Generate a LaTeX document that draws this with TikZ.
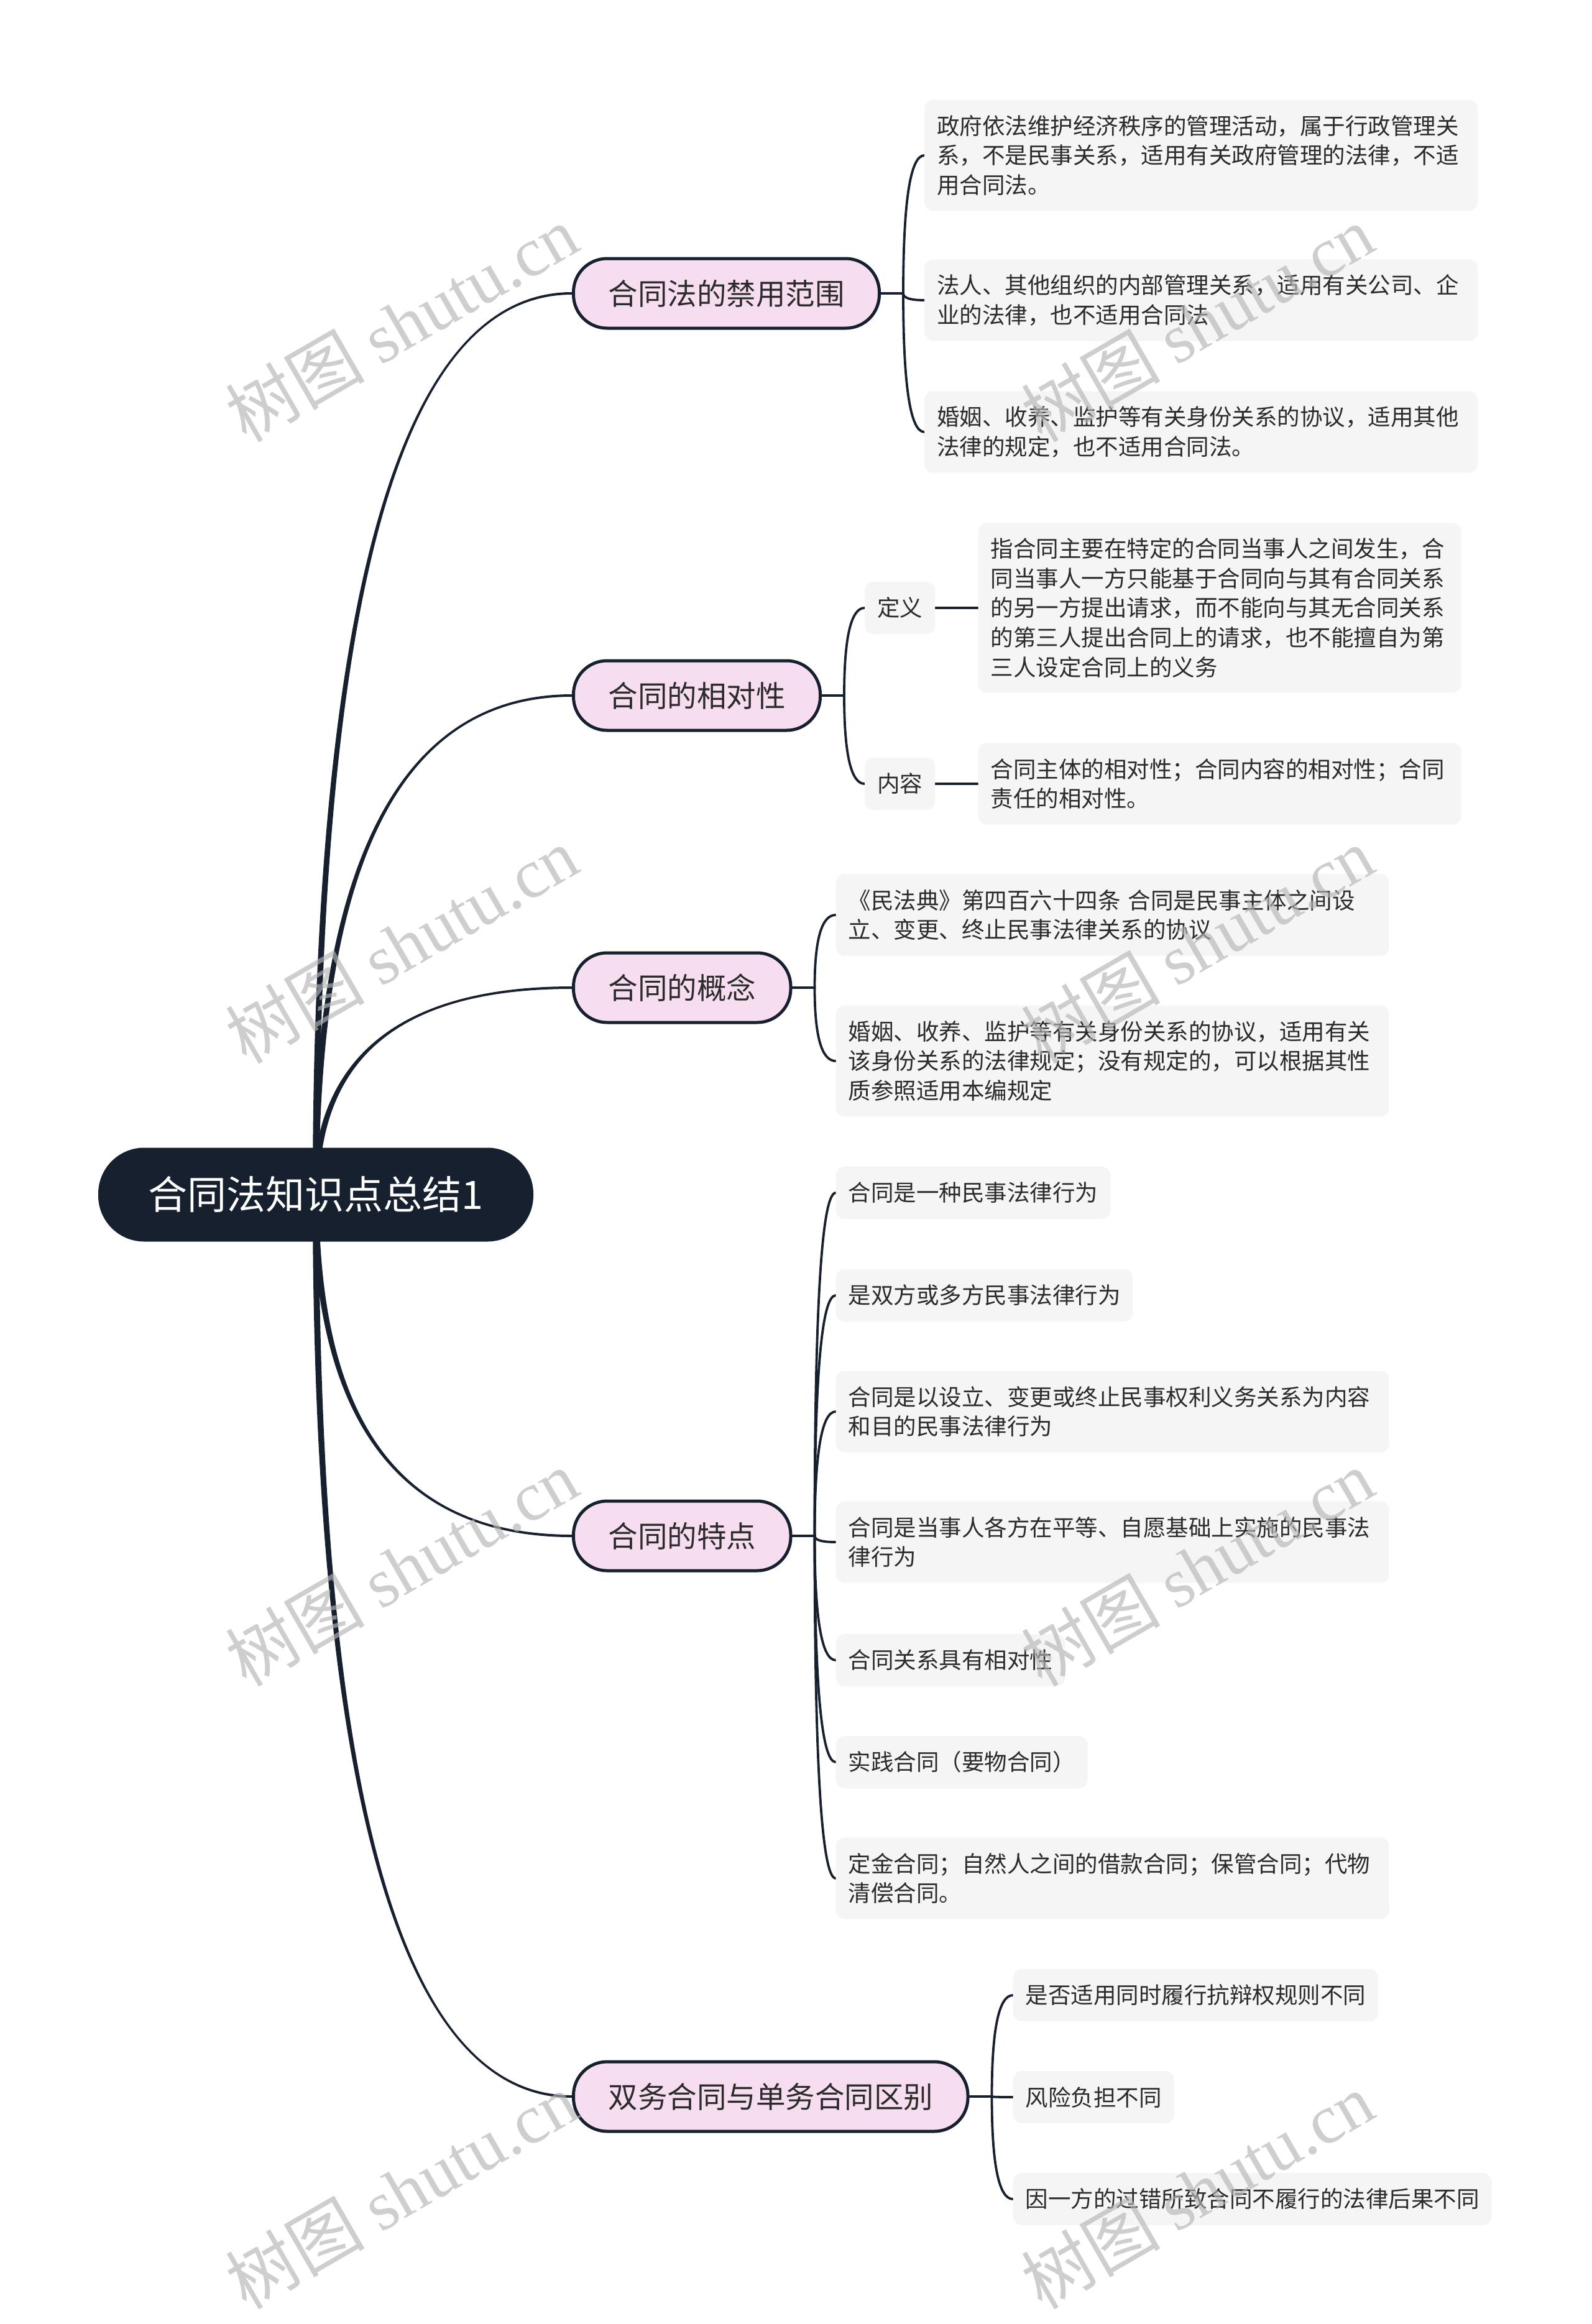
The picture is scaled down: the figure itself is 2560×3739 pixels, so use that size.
\documentclass[tikz,border=0pt]{standalone}
\usepackage{fontspec}
\setmainfont{Noto Sans CJK SC}
\newfontfamily\wmlatin{Liberation Serif}
\usetikzlibrary{calc}
\definecolor{navy}{HTML}{17202E}
\definecolor{pinkf}{HTML}{F6DDF0}
\definecolor{leaff}{HTML}{F5F5F5}
\definecolor{txt}{HTML}{2B2B2B}
\definecolor{wmc}{HTML}{B5B5B5}
\pgfdeclarelayer{bg}
\pgfdeclarelayer{fg}
\pgfsetlayers{bg,main,fg}
\tikzset{
  rootbox/.style={fill=navy, draw=none, rounded corners=74pt, minimum width=700pt,
    minimum height=151pt, inner sep=0pt, text=white, font=\fontsize{63}{75}\selectfont},
  topic/.style={fill=pinkf, draw=navy, line width=5pt, rounded corners=54pt,
    minimum height=112pt, inner xsep=56pt, inner ysep=0pt, text=txt,
    font=\fontsize{47.5}{57}\selectfont, anchor=west},
  leaf/.style={fill=leaff, draw=none, rounded corners=14pt, inner xsep=20pt, inner ysep=0pt,
    text=txt, font=\fontsize{36.5}{47.7}\selectfont, anchor=west, align=left,
    minimum height=84pt},
  nl/.style={minimum height={84pt+(#1-1)*47.3pt}},
  sublink/.style={draw=navy, line width=3.8pt, line cap=round},
  wmark/.style={rotate=30, text=wmc, opacity=0.65, font=\fontsize{112}{112}\selectfont},
}
\newcommand\rootlink[1]{%
  \fill[navy] let \p1=(root.center), \p2=(#1.west), \n1={sign(\y2-\y1)},
    \n2={\y1+2/3*(\y2-\y1)}, \n3={\x2+2/3*(\x1-\x2)},
    \n4={\x1-(\n1)*5pt}, \n5={\x1+(\n1)*5pt} in
    ({\n4*1pt},\y1) .. controls ({\n4*1pt},{\n2*1pt}) and ({\n3*1pt},{\y2+2pt}) .. (\x2,{\y2+2pt})
    -- (\x2,{\y2-2pt}) .. controls ({\n3*1pt},{\y2-2pt}) and ({\n5*1pt},{\n2*1pt}) .. ({\n5*1pt},\y1) -- cycle;}
\newcommand\leaflink[2]{%
  \draw[sublink] let \p1=(#1.east), \p2=(#2.west), \n1={\x1+36pt},
    \n2={\y1+2/3*(\y2-\y1)}, \n3={\x2+2/3*(\x1+36pt-\x2)} in
    (\p1) -- ({\n1*1pt},\y1) .. controls ({\n1*1pt},{\n2*1pt}) and ({\n3*1pt},\y2) .. (\p2);}
\begin{document}
\begin{tikzpicture}[x=1pt,y=-1pt]
\useasboundingbox (0,0) rectangle (2560,3739);

% root
\node[rootbox] (root) at (508,1922) {合同法知识点总结1};

% main topics
\node[topic] (P1) at (920,472) {合同法的禁用范围};
\node[topic] (P2) at (920,1119) {合同的相对性};
\node[topic] (P3) at (920,1589) {合同的概念};
\node[topic] (P4) at (920,2471) {合同的特点};
\node[topic] (P5) at (920,3373) {双务合同与单务合同区别};

\coordinate (g1) at ([xshift=70pt]P1.east);
\coordinate (g2) at ([xshift=69pt]P2.east);
\coordinate (g3) at ([xshift=70pt]P3.east);
\coordinate (g4) at ([xshift=70pt]P4.east);
\coordinate (g5) at ([xshift=70pt]P5.east);

% group 1
\node[leaf, nl=3, text width=850pt] (L11) at (g1 |- 0,250)
  {政府依法维护经济秩序的管理活动，属于行政管理关\\系，不是民事关系，适用有关政府管理的法律，不适\\用合同法。};
\node[leaf, nl=2, text width=850pt] (L12) at (g1 |- 0,483)
  {法人、其他组织的内部管理关系，适用有关公司、企\\业的法律，也不适用合同法};
\node[leaf, nl=2, text width=850pt] (L13) at (g1 |- 0,695)
  {婚姻、收养、监护等有关身份关系的协议，适用其他\\法律的规定，也不适用合同法。};

% group 2
\node[leaf] (T21) at (g2 |- 0,978) {定义};
\node[leaf] (T22) at (g2 |- 0,1261) {内容};
\node[leaf, nl=5, text width=737pt] (L21) at ([xshift=69pt]T21.east)
  {指合同主要在特定的合同当事人之间发生，合\\同当事人一方只能基于合同向与其有合同关系\\的另一方提出请求，而不能向与其无合同关系\\的第三人提出合同上的请求，也不能擅自为第\\三人设定合同上的义务};
\node[leaf, nl=2, text width=737pt] (L22) at ([xshift=69pt]T22.east)
  {合同主体的相对性；合同内容的相对性；合同\\责任的相对性。};

% group 3
\node[leaf, nl=2, text width=850pt] (L31) at (g3 |- 0,1472)
  {《民法典》第四百六十四条 合同是民事主体之间设\\立、变更、终止民事法律关系的协议};
\node[leaf, nl=3, text width=850pt] (L32) at (g3 |- 0,1707)
  {婚姻、收养、监护等有关身份关系的协议，适用有关\\该身份关系的法律规定；没有规定的，可以根据其性\\质参照适用本编规定};

% group 4
\node[leaf] (L41) at (g4 |- 0,1919) {合同是一种民事法律行为};
\node[leaf] (L42) at (g4 |- 0,2084) {是双方或多方民事法律行为};
\node[leaf, nl=2, text width=850pt] (L43) at (g4 |- 0,2271)
  {合同是以设立、变更或终止民事权利义务关系为内容\\和目的民事法律行为};
\node[leaf, nl=2, text width=850pt] (L44) at (g4 |- 0,2481)
  {合同是当事人各方在平等、自愿基础上实施的民事法\\律行为};
\node[leaf] (L45) at (g4 |- 0,2671) {合同关系具有相对性};
\node[leaf] (L46) at (g4 |- 0,2835) {实践合同（要物合同）};
\node[leaf, nl=2, text width=850pt] (L47) at (g4 |- 0,3022)
  {定金合同；自然人之间的借款合同；保管合同；代物\\清偿合同。};

% group 5
\node[leaf] (L51) at (g5 |- 0,3210) {是否适用同时履行抗辩权规则不同};
\node[leaf] (L52) at (g5 |- 0,3374) {风险负担不同};
\node[leaf] (L53) at (g5 |- 0,3538) {因一方的过错所致合同不履行的法律后果不同};

% connectors
\begin{pgfonlayer}{bg}
  \fill[white] (0,0) rectangle (2560,3739);
  \rootlink{P1}\rootlink{P2}\rootlink{P3}\rootlink{P4}\rootlink{P5}
  \leaflink{P1}{L11}\leaflink{P1}{L12}\leaflink{P1}{L13}
  \leaflink{P2}{T21}\leaflink{P2}{T22}
  \draw[sublink] (T21.east) -- (L21.west);
  \draw[sublink] (T22.east) -- (L22.west);
  \leaflink{P3}{L31}\leaflink{P3}{L32}
  \leaflink{P4}{L41}\leaflink{P4}{L42}\leaflink{P4}{L43}\leaflink{P4}{L44}
  \leaflink{P4}{L45}\leaflink{P4}{L46}\leaflink{P4}{L47}
  \leaflink{P5}{L51}\leaflink{P5}{L52}\leaflink{P5}{L53}
\end{pgfonlayer}

% watermarks
\begin{pgfonlayer}{fg}
  \foreach \wy [count=\i] in {520,1520,2522,3524}{
    \node[wmark] (wmA\i) at (646,\wy) {树图 {\wmlatin shutu.cn}};
    \node[wmark] (wmB\i) at (1926,\wy) {树图 {\wmlatin shutu.cn}};
  }
\end{pgfonlayer}
\end{tikzpicture}
\end{document}
